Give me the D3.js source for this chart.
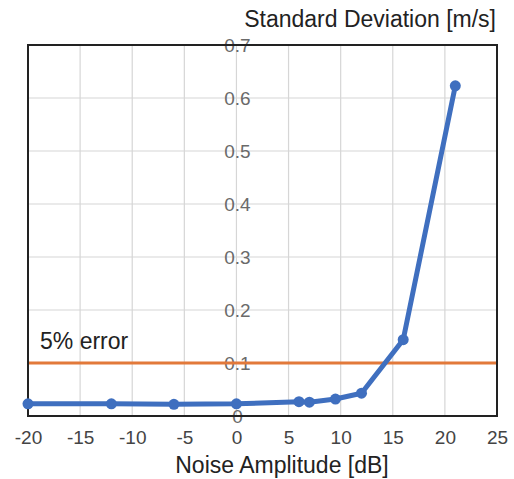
<!DOCTYPE html>
<html><head><meta charset="utf-8">
<script src="https://cdn.jsdelivr.net/npm/d3@7"></script>
<style>body{margin:0;background:#fff;}svg{display:block;font-family:"Liberation Sans",Arial,sans-serif;}</style>
</head><body><svg id="c" width="514" height="479"></svg>
<script>
const noiseDb = [-20, -12, -6, 0, 6, 7, 9.5, 12, 16, 21];
const stdDev = [0.023, 0.023, 0.022, 0.023, 0.027, 0.026, 0.032, 0.043, 0.144, 0.623];
const errorLevel = 0.1;
const xTicks = [-20, -15, -10, -5, 0, 5, 10, 15, 20, 25];
const yTicks = [0, 0.1, 0.2, 0.3, 0.4, 0.5, 0.6, 0.7];

const svg = d3.select("#c");
const L = 28, R = 497, T = 45, B = 416;
const x = d3.scaleLinear().domain([-20, 25]).range([L, R]);
const y = d3.scaleLinear().domain([0, 0.7]).range([B, T]);
const fmt = d => d3.format("~g")(d).replace("\u2212", "-");

// grid
svg.append("g").selectAll("line").data(xTicks).join("line")
  .attr("x1", d => x(d)).attr("x2", d => x(d)).attr("y1", T).attr("y2", B)
  .attr("stroke", "#d6d6d6").attr("stroke-width", 1.2);
svg.append("g").selectAll("line").data(yTicks).join("line")
  .attr("x1", L).attr("x2", R).attr("y1", d => y(d)).attr("y2", d => y(d))
  .attr("stroke", "#d6d6d6").attr("stroke-width", 1.2);

// y tick labels at x=0
svg.append("g").selectAll("text").data(yTicks).join("text")
  .attr("x", x(0) + 1).attr("y", d => y(d)).attr("dy", "0.35em")
  .attr("text-anchor", "middle").attr("font-size", 19).attr("fill", "#6a6a6a")
  .text(fmt);

// x axis tick labels
const xAxis = d3.axisBottom(x).tickValues(xTicks).tickSize(0).tickPadding(15).tickFormat(fmt);
const gx = svg.append("g").attr("transform", `translate(0,${B})`).call(xAxis);
gx.select(".domain").remove();
gx.selectAll("text").attr("font-size", 19).attr("fill", "#444").attr("font-family", "'Liberation Sans',Arial,sans-serif");

// error line
svg.append("line").attr("x1", L).attr("x2", R).attr("y1", y(errorLevel)).attr("y2", y(errorLevel))
  .attr("stroke", "#E2793A").attr("stroke-width", 3);
svg.append("text").attr("x", 40).attr("y", 349).attr("font-size", 23).attr("fill", "#222").text("5% error");

// border
svg.append("rect").attr("x", L).attr("y", T).attr("width", R - L).attr("height", B - T)
  .attr("fill", "none").attr("stroke", "#222").attr("stroke-width", 2);

// series
const pts = noiseDb.map((d, i) => [d, stdDev[i]]);
svg.append("path").datum(pts)
  .attr("d", d3.line().x(d => x(d[0])).y(d => y(d[1])))
  .attr("fill", "none").attr("stroke", "#3F6FBF").attr("stroke-width", 5).attr("stroke-linejoin", "round");
svg.append("g").selectAll("circle").data(pts).join("circle")
  .attr("cx", d => x(d[0])).attr("cy", d => y(d[1])).attr("r", 5.5).attr("fill", "#3F6FBF");

// titles
svg.append("text").attr("x", 496).attr("y", 27).attr("text-anchor", "end").attr("font-size", 23).attr("fill", "#222").text("Standard Deviation [m/s]");
svg.append("text").attr("x", 282).attr("y", 473).attr("text-anchor", "middle").attr("font-size", 23).attr("fill", "#222").text("Noise Amplitude [dB]");
</script></body></html>
